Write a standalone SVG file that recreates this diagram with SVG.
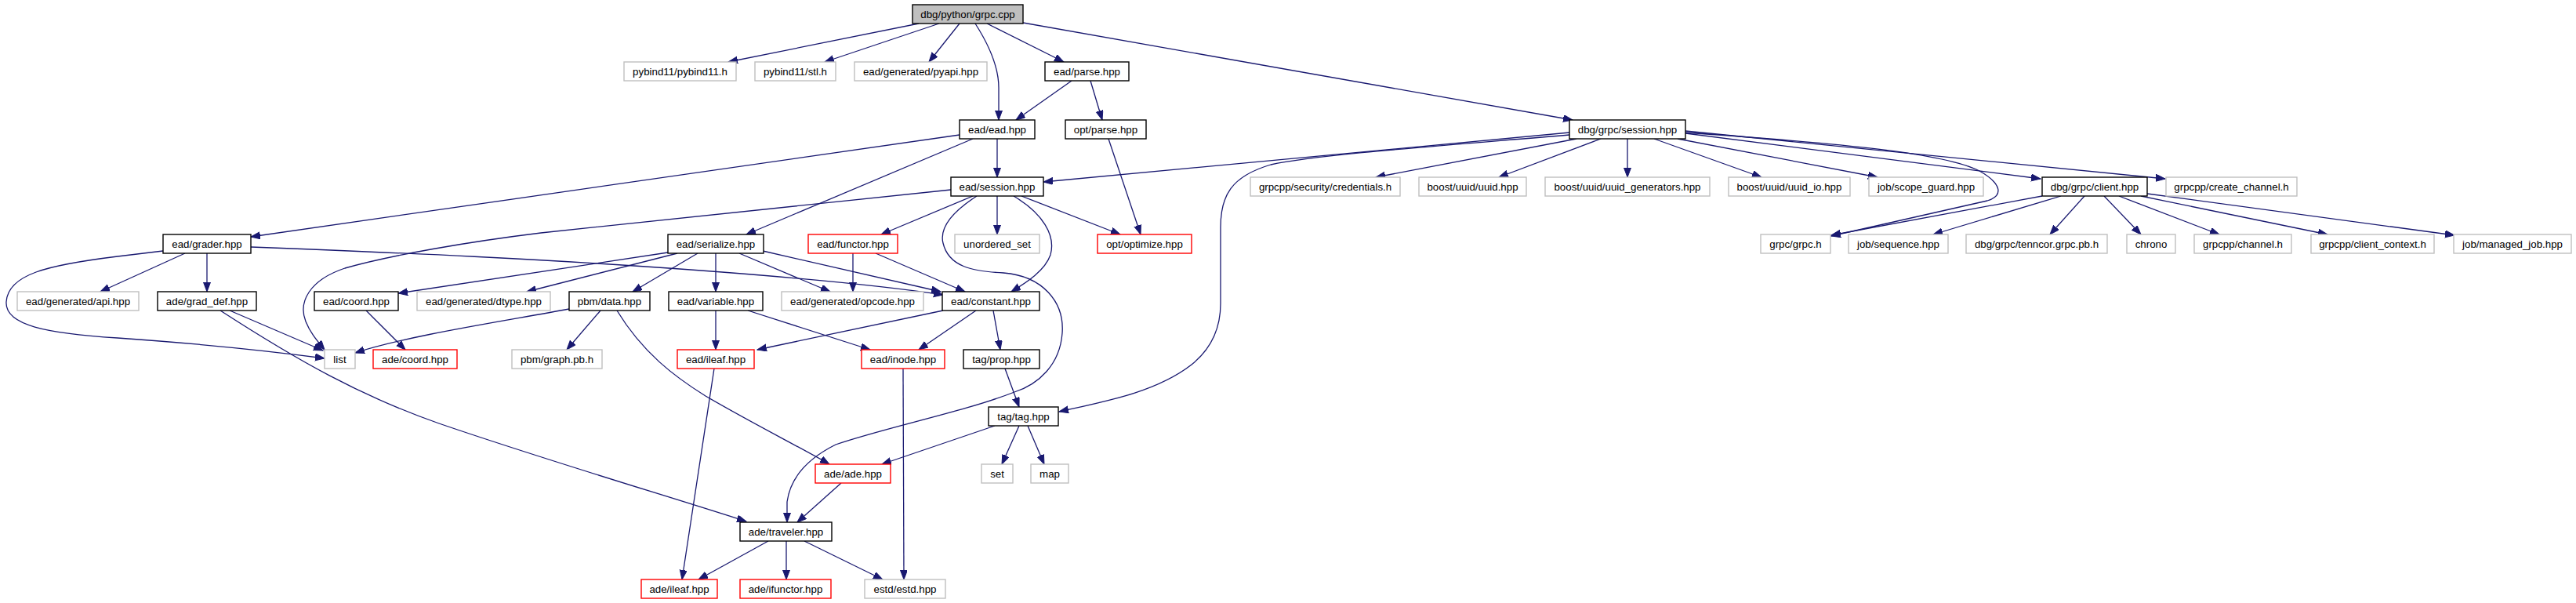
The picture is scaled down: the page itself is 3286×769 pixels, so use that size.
<svg xmlns="http://www.w3.org/2000/svg" width="3286" height="769" viewBox="0 0 3286 769">
<style>
.n rect{fill:#fff;stroke:#000;stroke-width:1.4}
.g rect{stroke:#bfbfbf}
.r rect{stroke:#ff0000}
.root rect{fill:#bfbfbf}
text{font-family:"Liberation Sans",Arial,sans-serif;font-size:13.3px;text-anchor:middle;fill:#000}
#edges path{fill:none;stroke:#191970;stroke-width:1.3;marker-end:url(#a)}
</style>
<defs>
<marker id="a" markerWidth="13" markerHeight="10" refX="12" refY="4.5" orient="auto" markerUnits="userSpaceOnUse"><path d="M0,0 L12,4.5 L0,9 z" fill="#191970" stroke="#191970" stroke-width="1"/></marker>
</defs>
<rect width="3286" height="769" fill="#fff"/>
<g id="edges">
<path d="M1172,30 L929,79"/>
<path d="M1198,30 L1052,79"/>
<path d="M1224,30 L1185,79"/>
<path d="M1244,30 C1262,58 1274,85 1274,112 L1274,153"/>
<path d="M1259,30 L1357,79"/>
<path d="M1305,29 L2006,153"/>
<path d="M1367,103 L1296,153"/>
<path d="M1391,103 L1406,153"/>
<path d="M1224,172 L320,302"/>
<path d="M1241,177 L952,299"/>
<path d="M1272,177 L1272,226"/>
<path d="M1414,177 L1455,299"/>
<path d="M2002,169 L1331,232"/>
<path d="M2002,172 C1850,185 1680,197 1621,210 C1570,225 1557,250 1557,290 L1557,387 C1557,420 1545,445 1520,465 C1475,500 1410,512 1351,525"/>
<path d="M2011,177 L1755,226"/>
<path d="M2042,177 L1912,226"/>
<path d="M2076,177 L2076,226"/>
<path d="M2110,177 L2247,226"/>
<path d="M2140,177 L2395,226"/>
<path d="M2150,170 L2603,228"/>
<path d="M2150,167 L2762,228"/>
<path d="M2150,169 C2350,183 2480,195 2525,218 C2555,235 2555,250 2535,256 L2336,301"/>
<path d="M2605,250 L2336,300"/>
<path d="M2629,250 L2466,299"/>
<path d="M2659,250 L2615,299"/>
<path d="M2684,250 L2731,299"/>
<path d="M2703,250 L2831,299"/>
<path d="M2731,250 L2969,299"/>
<path d="M2739,247 L3131,300"/>
<path d="M1241,250 L1124,299"/>
<path d="M1246,250 C1215,270 1198,290 1203,310 C1210,340 1240,346 1280,348 C1330,352 1358,385 1355,425 C1352,465 1325,490 1294,500 C1230,525 1130,545 1066,567 C1030,585 1008,610 1004,640 L1004,666"/>
<path d="M1272,250 L1272,299"/>
<path d="M1293,250 C1330,272 1347,300 1340,325 C1333,345 1310,360 1290,372"/>
<path d="M1303,250 L1429,299"/>
<path d="M1213,242 L690,297 C600,308 500,325 440,342 C395,357 380,385 390,410 C396,425 405,435 414,446"/>
<path d="M236,323 L128,372"/>
<path d="M264,323 L264,372"/>
<path d="M208,320 L150,327 C60,338 10,350 8,385 C6,415 60,425 150,431 C250,438 340,447 414,457"/>
<path d="M320,315 C500,322 700,330 921,347 C1050,357 1150,368 1203,376"/>
<path d="M852,322 L508,374"/>
<path d="M864,323 L672,372"/>
<path d="M890,323 L807,372"/>
<path d="M913,323 L913,372"/>
<path d="M943,323 L1059,372"/>
<path d="M973,320 L1200,372"/>
<path d="M1088,323 L1088,372"/>
<path d="M1117,323 L1231,372"/>
<path d="M467,396 L517,446"/>
<path d="M726,394 C640,410 520,428 453,450"/>
<path d="M766,396 L723,446"/>
<path d="M787,396 C820,450 860,480 900,505 C960,540 1020,570 1058,592"/>
<path d="M913,396 L913,446"/>
<path d="M954,396 L1110,446"/>
<path d="M1203,396 L966,446"/>
<path d="M1245,396 L1172,446"/>
<path d="M1267,396 L1276,446"/>
<path d="M911,470 L870,739"/>
<path d="M1152,470 L1153,739"/>
<path d="M1282,470 L1300,519"/>
<path d="M1269,543 L1125,592"/>
<path d="M1300,543 L1278,592"/>
<path d="M1311,543 L1332,592"/>
<path d="M1073,616 L1017,666"/>
<path d="M293,396 L412,447"/>
<path d="M281,396 C380,460 460,505 560,540 C700,588 850,632 952,665"/>
<path d="M980,690 L891,739"/>
<path d="M1003,690 L1003,739"/>
<path d="M1026,690 L1126,739"/>
</g>
<g id="n_root" class="n root"><rect x="1164" y="6" width="141" height="24"/><text x="1234.5" y="22.5">dbg/python/grpc.cpp</text></g>
<g id="n_pybind11" class="n g"><rect x="796" y="79" width="143" height="24"/><text x="867.5" y="95.5">pybind11/pybind11.h</text></g>
<g id="n_stl" class="n g"><rect x="963" y="79" width="103" height="24"/><text x="1014.5" y="95.5">pybind11/stl.h</text></g>
<g id="n_pyapi" class="n g"><rect x="1090" y="79" width="169" height="24"/><text x="1174.5" y="95.5">ead/generated/pyapi.hpp</text></g>
<g id="n_eadparse" class="n"><rect x="1333" y="79" width="107" height="24"/><text x="1386.5" y="95.5">ead/parse.hpp</text></g>
<g id="n_ead" class="n"><rect x="1224" y="153" width="96" height="24"/><text x="1272" y="169.5">ead/ead.hpp</text></g>
<g id="n_optparse" class="n"><rect x="1359" y="153" width="103" height="24"/><text x="1410.5" y="169.5">opt/parse.hpp</text></g>
<g id="n_dbgsession" class="n"><rect x="2002" y="153" width="148" height="24"/><text x="2076" y="169.5">dbg/grpc/session.hpp</text></g>
<g id="n_eadsession" class="n"><rect x="1213" y="226" width="118" height="24"/><text x="1272" y="242.5">ead/session.hpp</text></g>
<g id="n_credentials" class="n g"><rect x="1595" y="226" width="191" height="24"/><text x="1690.5" y="242.5">grpcpp/security/credentials.h</text></g>
<g id="n_uuid" class="n g"><rect x="1810" y="226" width="137" height="24"/><text x="1878.5" y="242.5">boost/uuid/uuid.hpp</text></g>
<g id="n_uuidgen" class="n g"><rect x="1971" y="226" width="210" height="24"/><text x="2076" y="242.5">boost/uuid/uuid_generators.hpp</text></g>
<g id="n_uuidio" class="n g"><rect x="2205" y="226" width="155" height="24"/><text x="2282.5" y="242.5">boost/uuid/uuid_io.hpp</text></g>
<g id="n_scopeguard" class="n g"><rect x="2384" y="226" width="146" height="24"/><text x="2457" y="242.5">job/scope_guard.hpp</text></g>
<g id="n_client" class="n"><rect x="2605" y="226" width="134" height="24"/><text x="2672" y="242.5">dbg/grpc/client.hpp</text></g>
<g id="n_createchannel" class="n g"><rect x="2763" y="226" width="167" height="24"/><text x="2846.5" y="242.5">grpcpp/create_channel.h</text></g>
<g id="n_grader" class="n"><rect x="208" y="299" width="112" height="24"/><text x="264" y="315.5">ead/grader.hpp</text></g>
<g id="n_serialize" class="n"><rect x="852" y="299" width="122" height="24"/><text x="913" y="315.5">ead/serialize.hpp</text></g>
<g id="n_functor" class="n r"><rect x="1031" y="299" width="114" height="24"/><text x="1088" y="315.5">ead/functor.hpp</text></g>
<g id="n_unorderedset" class="n g"><rect x="1218" y="299" width="108" height="24"/><text x="1272" y="315.5">unordered_set</text></g>
<g id="n_optimize" class="n r"><rect x="1400" y="299" width="120" height="24"/><text x="1460" y="315.5">opt/optimize.hpp</text></g>
<g id="n_grpch" class="n g"><rect x="2246" y="299" width="89" height="24"/><text x="2290.5" y="315.5">grpc/grpc.h</text></g>
<g id="n_sequence" class="n g"><rect x="2358" y="299" width="127" height="24"/><text x="2421.5" y="315.5">job/sequence.hpp</text></g>
<g id="n_tenncor" class="n g"><rect x="2508" y="299" width="180" height="24"/><text x="2598" y="315.5">dbg/grpc/tenncor.grpc.pb.h</text></g>
<g id="n_chrono" class="n g"><rect x="2713" y="299" width="62" height="24"/><text x="2744" y="315.5">chrono</text></g>
<g id="n_channel" class="n g"><rect x="2799" y="299" width="124" height="24"/><text x="2861" y="315.5">grpcpp/channel.h</text></g>
<g id="n_clientcontext" class="n g"><rect x="2948" y="299" width="157" height="24"/><text x="3026.5" y="315.5">grpcpp/client_context.h</text></g>
<g id="n_managedjob" class="n g"><rect x="3130" y="299" width="150" height="24"/><text x="3205" y="315.5">job/managed_job.hpp</text></g>
<g id="n_api" class="n g"><rect x="22" y="372" width="155" height="24"/><text x="99.5" y="388.5">ead/generated/api.hpp</text></g>
<g id="n_graddef" class="n"><rect x="201" y="372" width="126" height="24"/><text x="264" y="388.5">ade/grad_def.hpp</text></g>
<g id="n_eadcoord" class="n"><rect x="401" y="372" width="107" height="24"/><text x="454.5" y="388.5">ead/coord.hpp</text></g>
<g id="n_dtype" class="n g"><rect x="532" y="372" width="170" height="24"/><text x="617" y="388.5">ead/generated/dtype.hpp</text></g>
<g id="n_pbmdata" class="n"><rect x="726" y="372" width="103" height="24"/><text x="777.5" y="388.5">pbm/data.hpp</text></g>
<g id="n_variable" class="n"><rect x="853" y="372" width="120" height="24"/><text x="913" y="388.5">ead/variable.hpp</text></g>
<g id="n_opcode" class="n g"><rect x="997" y="372" width="181" height="24"/><text x="1087.5" y="388.5">ead/generated/opcode.hpp</text></g>
<g id="n_constant" class="n"><rect x="1202" y="372" width="124" height="24"/><text x="1264" y="388.5">ead/constant.hpp</text></g>
<g id="n_list" class="n g"><rect x="414" y="446" width="39" height="24"/><text x="433.5" y="462.5">list</text></g>
<g id="n_adecoord" class="n r"><rect x="476" y="446" width="107" height="24"/><text x="529.5" y="462.5">ade/coord.hpp</text></g>
<g id="n_graphpb" class="n g"><rect x="653" y="446" width="115" height="24"/><text x="710.5" y="462.5">pbm/graph.pb.h</text></g>
<g id="n_eadileaf" class="n r"><rect x="864" y="446" width="98" height="24"/><text x="913" y="462.5">ead/ileaf.hpp</text></g>
<g id="n_inode" class="n r"><rect x="1099" y="446" width="106" height="24"/><text x="1152" y="462.5">ead/inode.hpp</text></g>
<g id="n_prop" class="n"><rect x="1229" y="446" width="97" height="24"/><text x="1277.5" y="462.5">tag/prop.hpp</text></g>
<g id="n_tag" class="n"><rect x="1261" y="519" width="89" height="24"/><text x="1305.5" y="535.5">tag/tag.hpp</text></g>
<g id="n_ade" class="n r"><rect x="1040" y="592" width="96" height="24"/><text x="1088" y="608.5">ade/ade.hpp</text></g>
<g id="n_set" class="n g"><rect x="1252" y="592" width="40" height="24"/><text x="1272" y="608.5">set</text></g>
<g id="n_map" class="n g"><rect x="1315" y="592" width="48" height="24"/><text x="1339" y="608.5">map</text></g>
<g id="n_traveler" class="n"><rect x="944" y="666" width="117" height="24"/><text x="1002.5" y="682.5">ade/traveler.hpp</text></g>
<g id="n_adeileaf" class="n r"><rect x="818" y="739" width="97" height="24"/><text x="866.5" y="755.5">ade/ileaf.hpp</text></g>
<g id="n_ifunctor" class="n r"><rect x="944" y="739" width="116" height="24"/><text x="1002" y="755.5">ade/ifunctor.hpp</text></g>
<g id="n_estd" class="n g"><rect x="1103" y="739" width="103" height="24"/><text x="1154.5" y="755.5">estd/estd.hpp</text></g>
</svg>
